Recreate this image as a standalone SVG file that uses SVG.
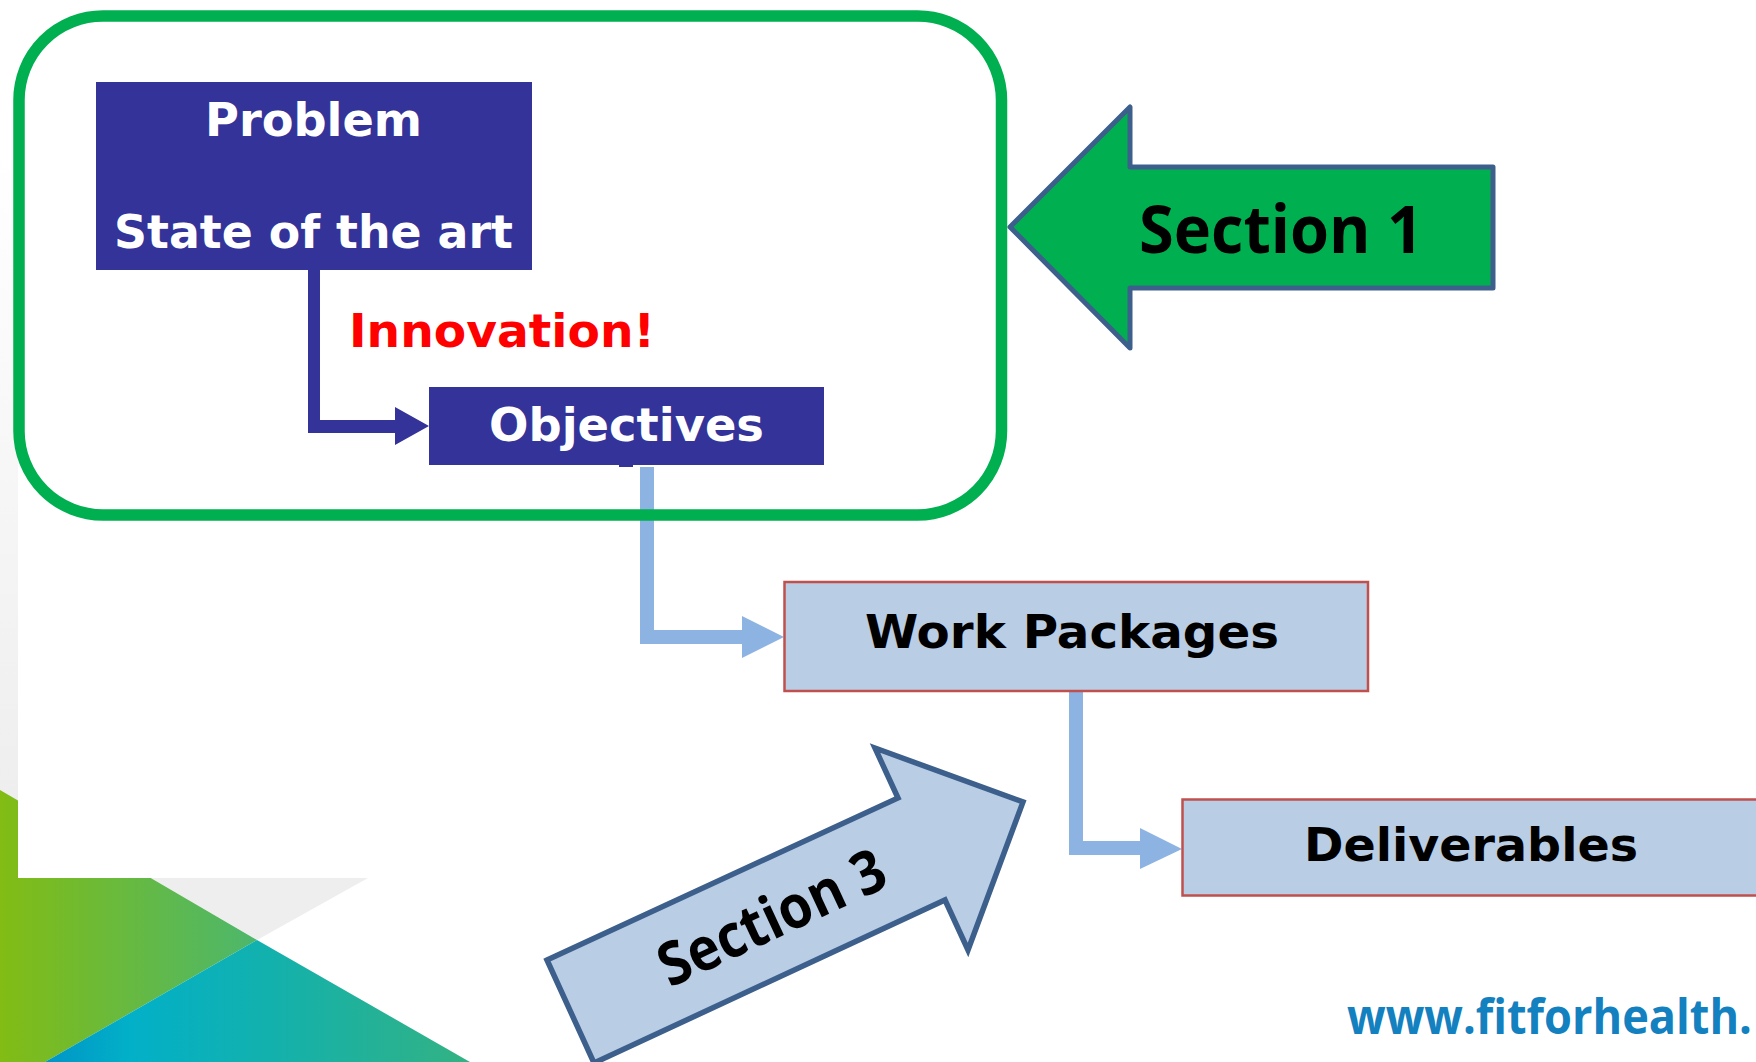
<svg xmlns="http://www.w3.org/2000/svg" width="1756" height="1062" viewBox="0 0 1756 1062">
<style>
.dark{fill:#333399}
.light{fill:#b9cde5;stroke:#c0504d;stroke-width:2.5}
.conn-dark{fill:#333399}
.conn-light{fill:#8db3e2}
.v{font-family:"DejaVu Sans",Verdana,sans-serif;font-weight:700;font-size:47px;text-anchor:start}
.o{font-family:"Open Sans","Noto Sans",sans-serif;font-weight:700;fill:#000}
.w{fill:#ffffff}
.k{fill:#000000}
.sec{stroke:#3c5f8c;stroke-linejoin:round}
</style>
<defs>
<linearGradient id="strip" x1="0" y1="150" x2="0" y2="800" gradientUnits="userSpaceOnUse"><stop offset="0" stop-color="#ffffff"/><stop offset="1" stop-color="#eeeeee"/></linearGradient>
<linearGradient id="gGreen" x1="0" y1="0" x2="257" y2="0" gradientUnits="userSpaceOnUse"><stop offset="0" stop-color="#82bc14"/><stop offset="1" stop-color="#4cb76c"/></linearGradient>
<linearGradient id="gTeal" x1="45" y1="0" x2="470" y2="0" gradientUnits="userSpaceOnUse"><stop offset="0" stop-color="#0095c6"/><stop offset="0.2" stop-color="#02b0c8"/><stop offset="0.55" stop-color="#14b1ab"/><stop offset="1" stop-color="#33b283"/></linearGradient>
</defs>
<rect width="1756" height="1062" fill="#ffffff"/>
<rect x="0" y="0" width="18" height="800" fill="url(#strip)"/>
<polygon points="130,878 368,878 257,940" fill="#eeeeee"/>
<polygon points="0,790 257,940 45,1062 0,1062" fill="url(#gGreen)"/>
<polygon points="257,940 470,1062 45,1062" fill="url(#gTeal)"/>
<rect x="18" y="0" width="1738" height="878" fill="#ffffff"/>
<text id="url" x="1347" y="1034" font-family="'Open Sans','Noto Sans',sans-serif" font-weight="700" font-size="48" fill="#1380c0" textLength="405" lengthAdjust="spacingAndGlyphs">www.fitforhealth.</text>
<g id="connectors">
<polygon class="conn-dark" points="308,270 320,270 320,420 395,420 395,407 429,426 395,445 395,433 308,433"/>
<rect class="conn-dark" x="619" y="464" width="14" height="3"/>
<polygon class="conn-light" points="640,467 654,467 654,630 742,630 742,616 784,637 742,658 742,644 640,644"/>
<polygon class="conn-light" points="1069,692 1083,692 1083,841 1140,841 1140,828 1182,849 1140,869 1140,855 1069,855"/>
</g>
<g id="frame"><rect x="19" y="16" width="982.5" height="499" rx="84" ry="84" fill="none" stroke="#00b050" stroke-width="11.5"/></g>
<g id="problem"><rect class="dark" x="96" y="82" width="436" height="188"/>
<text class="v w" x="205" y="136" textLength="217" lengthAdjust="spacingAndGlyphs">Problem</text>
<text class="v w" x="114" y="248" textLength="399" lengthAdjust="spacingAndGlyphs">State of the art</text></g>
<g id="innovation"><text class="v" fill="#ff0000" x="349" y="347" textLength="306" lengthAdjust="spacingAndGlyphs">Innovation!</text></g>
<g id="objectives"><rect class="dark" x="429" y="387" width="395" height="78"/>
<text class="v w" x="489" y="441" textLength="275" lengthAdjust="spacingAndGlyphs">Objectives</text></g>
<g id="work-packages"><rect class="light" x="784.5" y="582" width="583.5" height="109"/>
<text class="v k" x="865" y="648" textLength="414" lengthAdjust="spacingAndGlyphs">Work Packages</text></g>
<g id="deliverables"><rect class="light" x="1182.5" y="799.5" width="600" height="96"/>
<text class="v k" x="1304" y="861" textLength="334" lengthAdjust="spacingAndGlyphs">Deliverables</text></g>
<g id="section-1"><polygon class="sec" fill="#00b050" stroke-width="5" points="1010,227 1130,107 1130,167 1493,167 1493,288 1130,288 1130,348"/>
<text class="o" x="1139" y="253" font-size="67" textLength="284" lengthAdjust="spacingAndGlyphs">Section 1</text></g>
<g id="section-3"><polygon class="sec" style="stroke-linejoin:miter" fill="#b9cde5" stroke-width="5.5" points="547,960 898,798 875,748 1023,802 968,950 945,900 594,1063"/>
<text class="o" transform="translate(670 988) rotate(-25)" x="0" y="0" font-size="60" textLength="244" lengthAdjust="spacingAndGlyphs">Section 3</text></g>
</svg>
